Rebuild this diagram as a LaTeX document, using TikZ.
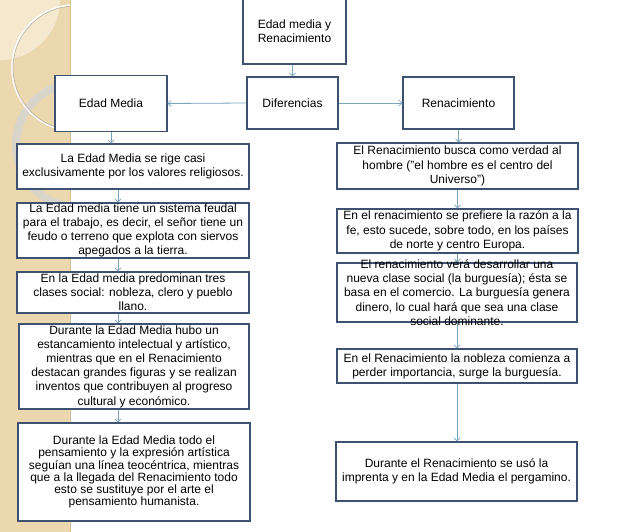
\documentclass[tikz,border=0pt]{standalone}
\usepackage{fontspec}
\setmainfont{Liberation Sans}
\usetikzlibrary{arrows.meta}
\definecolor{boxc}{HTML}{3F5170}
\definecolor{arrc}{HTML}{7AA3BE}
\definecolor{strip}{HTML}{EBD8AF}
\definecolor{stripedge}{HTML}{D8C293}
\definecolor{lighttan}{HTML}{F4E9CF}
\definecolor{ringc}{HTML}{DAD5CB}
\definecolor{arcc}{HTML}{B9AF9D}
\tikzset{
  boxnode/.style={draw=boxc, line width=1.2pt, fill=white, inner sep=0pt},
  txt/.style={align=center, inner sep=0pt, font=\fontsize{12}{14.2}\selectfont},
  arr/.style={draw=arrc, line width=0.8pt, -{Straight Barb[length=3pt,width=6pt]}}
}
\begin{document}
\begin{tikzpicture}[x=1pt,y=-1pt]
\useasboundingbox (0,0) rectangle (638,532);
\fill[white] (0,0) rectangle (638,532);
% left decorative strip
\begin{scope}
  \clip (0,0) rectangle (70,532);
  \fill[strip] (0,0) rectangle (70,532);
  \fill[lighttan] (0,0) circle[radius=60];
  \draw[ringc, line width=8pt] (78,145) circle[radius=62];
  \draw[white, line width=1.6pt] (75,68) circle[radius=63];
  \draw[arcc, line width=0.6pt] (75,68) circle[radius=62];
\end{scope}
\draw[stripedge, line width=1pt] (70,0) -- (70,532);

% nodes
\node[boxnode, minimum width=103pt, minimum height=66pt] (T) at (294.5,31) {};
\node[txt] (Tt) at (T) {Edad media y\\Renacimiento};
\node[boxnode, minimum width=91pt, minimum height=52pt] (D) at (292.5,103) {};
\node[txt] (Dt) at (D) {Diferencias};
\node[boxnode, minimum width=112pt, minimum height=56pt] (EM) at (111,103.5) {};
\node[txt] (EMt) at (EM) {Edad Media};
\node[boxnode, minimum width=111pt, minimum height=52pt] (R) at (458.5,103) {};
\node[txt] (Rt) at (R) {Renacimiento};

\node[boxnode, minimum width=232pt, minimum height=45pt] (L1) at (133,166.5) {};
\node[txt] (L1t) at (L1) {La Edad Media se rige casi\\exclusivamente por los valores religiosos.};
\node[boxnode, minimum width=232pt, minimum height=55pt] (L2) at (133,230.5) {};
\node[txt] (L2t) at (L2) {La Edad media tiene un sistema feudal\\para el trabajo, es decir, el señor tiene un\\feudo o terreno que explota con siervos\\apegados a la tierra.};
\node[boxnode, minimum width=232pt, minimum height=41pt] (L3) at (133,292.5) {};
\node[txt] (L3t) at (L3) {En la Edad media predominan tres\\clases social: nobleza, clero y pueblo\\llano.};
\node[boxnode, minimum width=230pt, minimum height=85pt] (L4) at (134,366.5) {};
\node[txt] (L4t) at (L4) {Durante la Edad Media hubo un\\estancamiento intelectual y artístico,\\mientras que en el Renacimiento\\destacan grandes figuras y se realizan\\inventos que contribuyen al progreso\\cultural y económico.};
\node[boxnode, minimum width=232pt, minimum height=98pt] (L5) at (134,472) {};
\node[txt, font=\fontsize{12}{12.2}\selectfont] (L5t) at (L5) {Durante la Edad Media todo el\\pensamiento y la expresión artística\\seguían una línea teocéntrica, mientras\\que a la llegada del Renacimiento todo\\esto se sustituye por el arte el\\pensamiento humanista.};

\node[boxnode, minimum width=241pt, minimum height=46pt] (R1) at (457.5,166) {};
\node[txt] (R1t) at (R1) {El Renacimiento busca como verdad al\\hombre ("el hombre es el centro del\\Universo")};
\node[boxnode, minimum width=241pt, minimum height=44pt] (R2) at (457.5,231) {};
\node[txt] (R2t) at (R2) {En el renacimiento se prefiere la razón a la\\fe, esto sucede, sobre todo, en los países\\de norte y centro Europa.};
\node[boxnode, minimum width=240pt, minimum height=59pt] (R3) at (457,292.5) {};
\node[boxnode, minimum width=240pt, minimum height=34pt] (R4) at (457,366) {};
\node[txt] (R4t) at (R4) {En el Renacimiento la nobleza comienza a\\perder importancia, surge la burguesía.};
\node[boxnode, minimum width=241pt, minimum height=59pt] (R5) at (456.5,471.5) {};
\node[txt] (R5t) at (R5) {Durante el Renacimiento se usó la\\imprenta y en la Edad Media el pergamino.};

% connectors
\draw[arr] (D.north |- T.south) -- (D.north);
\draw[arr] (D.west) -- (EM.east);
\draw[arr] (D.east) -- (R.west);
\draw[arr] (EM.south) -- (EM.south |- L1.north);
\draw[arr] ([xshift=-15pt]L1.south) -- ([xshift=-15pt]L1.south |- L2.north);
\draw[arr] ([xshift=-15pt]L2.south) -- ([xshift=-15pt]L2.south |- L3.north);
\draw[arr] ([xshift=-15pt]L3.south) -- ([xshift=-15pt]L3.south |- L4.north);
\draw[arr] ([xshift=-16pt]L4.south) -- ([xshift=-16pt]L4.south |- L5.north);
\draw[arr] (R.south) -- (R.south |- R1.north);
\draw[arr] (R1.south) -- (R1.south |- R2.north);
\draw[arr] (R2.south) -- (R2.south |- R3.north);
\draw[arr] (R3.south) -- (R3.south |- R4.north);
\draw[arr] (R4.south) -- (R4.south |- R5.north);

% R3 text overflows its box, drawn on top
\node[txt] (R3t) at (R3) {El renacimiento verá desarrollar una\\nueva clase social (la burguesía); ésta se\\basa en el comercio. La burguesía genera\\dinero, lo cual hará que sea una clase\\social dominante.};
\end{tikzpicture}
\end{document}
